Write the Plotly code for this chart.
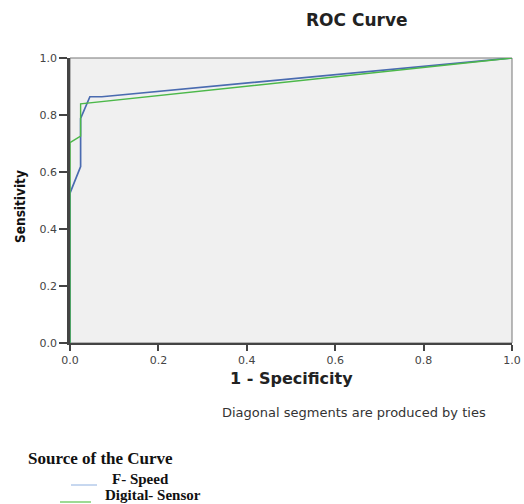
import plotly.graph_objects as go

fspeed_fpr = [0.0, 0.0, 0.024, 0.024, 0.045, 0.072, 1.0]
fspeed_tpr = [0.0, 0.526, 0.619, 0.788, 0.864, 0.864, 1.0]
digital_fpr = [0.0, 0.0, 0.024, 0.024, 1.0]
digital_tpr = [0.0, 0.703, 0.726, 0.839, 1.0]
tick_vals = [0.0, 0.2, 0.4, 0.6, 0.8, 1.0]
tick_text = ["0.0", "0.2", "0.4", "0.6", "0.8", "1.0"]

blue = "#4a6bb0"
green = "#4cb84a"

W, H = 524, 504
L, T = 70, 58
R = W - 512
B = H - 343

fig = go.Figure()
fig.add_trace(go.Scatter(x=fspeed_fpr, y=fspeed_tpr, mode="lines",
                         line=dict(color=blue, width=1.7), name="F- Speed"))
fig.add_trace(go.Scatter(x=digital_fpr, y=digital_tpr, mode="lines",
                         line=dict(color=green, width=1.4), name="Digital- Sensor"))

fig.update_layout(
    width=W, height=H,
    margin=dict(l=L, r=R, t=T, b=B),
    paper_bgcolor="white", plot_bgcolor="#f0f0f0",
    showlegend=False,
    font=dict(family="DejaVu Sans", size=11, color="#333"),
)
fig.update_xaxes(range=[0, 1], tickvals=tick_vals, ticktext=tick_text,
                 showgrid=False, zeroline=False, showline=True, automargin=False,
                 linecolor="#444", linewidth=2, ticks="outside", ticklen=6,
                 tickwidth=1.5, tickcolor="#444",
                 tickfont=dict(family="DejaVu Sans", size=11, color="#444"))
fig.update_yaxes(range=[0, 1], tickvals=tick_vals, ticktext=tick_text,
                 showgrid=False, zeroline=False, showline=True, automargin=False,
                 linecolor="#444", linewidth=2.5, ticks="outside", ticklen=8,
                 tickwidth=1.5, tickcolor="#444",
                 tickfont=dict(family="DejaVu Sans", size=11, color="#444"))

fig.add_shape(type="rect", xref="paper", yref="paper", x0=0, y0=0, x1=1, y1=1,
              line=dict(color="#777", width=1), layer="below")

ph = H - T - B
pw = W - L - R
def py(pix):
    return (H - B - pix) / ph
def px(pix):
    return (pix - L) / pw

def ann(text, x, y, family, size, anchor="center", angle=0, color="#222"):
    fig.add_annotation(text=text, x=px(x), y=py(y), xref="paper", yref="paper",
                       showarrow=False, textangle=angle,
                       font=dict(family=family, size=size, color=color),
                       xanchor=anchor, yanchor="middle")

ann("<b>ROC Curve</b>", 357, 20, "DejaVu Sans", 17)
ann("<b>Sensitivity</b>", 20, 207, "DejaVu Sans Condensed", 13.5, angle=-90, color="#111")
ann("<b>1 - Specificity</b>", 291, 378, "DejaVu Sans", 16)
ann("Diagonal segments are produced by ties", 354, 413, "DejaVu Sans", 13, color="#333")
ann("<b>Source of the Curve</b>", 26, 458, "Liberation Serif, Times New Roman", 17, anchor="left", color="#111")
ann("<b>F- Speed</b>", 110, 479, "Liberation Serif, Times New Roman", 15, anchor="left", color="#111")
ann("<b>Digital- Sensor</b>", 103, 495, "Liberation Serif, Times New Roman", 15, anchor="left", color="#111")

fig.add_shape(type="line", xref="paper", yref="paper", x0=px(71), x1=px(97), y0=py(485), y1=py(485),
              line=dict(color="#8fb0e0", width=1))
fig.add_shape(type="line", xref="paper", yref="paper", x0=px(60), x1=px(91), y0=py(502), y1=py(502),
              line=dict(color="#7ccf70", width=1.5))

fig.write_html("out.html", config={"displayModeBar": False},
               post_script="document.body.style.margin='0';")
